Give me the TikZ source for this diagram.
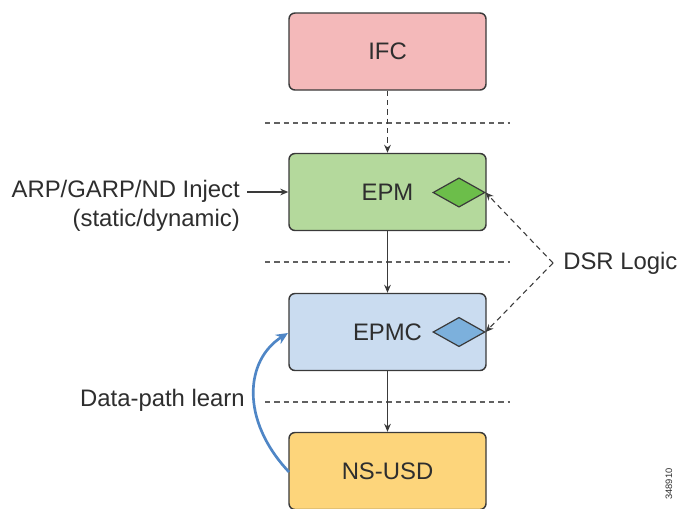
\documentclass[tikz,border=0pt]{standalone}
\usepackage{fontspec}
\setmainfont{Liberation Sans}
\usetikzlibrary{arrows.meta,shapes.geometric}
\definecolor{ifcfill}{HTML}{F4B9BA}
\definecolor{epmfill}{HTML}{B4D99C}
\definecolor{epmcfill}{HTML}{CADCF0}
\definecolor{nsfill}{HTML}{FDD57B}
\definecolor{dgreen}{HTML}{6CBE4A}
\definecolor{dblue}{HTML}{7CB0DC}
\definecolor{edge}{HTML}{3A3A3A}
\definecolor{txt}{HTML}{2E2E2E}
\definecolor{curve}{HTML}{4F86C6}
\tikzset{
  box/.style={draw=edge, line width=1.1pt, rounded corners=4.5pt, minimum width=147.75pt, minimum height=57.75pt, inner sep=0pt, text=txt, font=\fontsize{17.9}{21}\selectfont},
  dmd/.style={draw=edge, line width=0.9pt, diamond, inner sep=0pt, minimum width=39pt, minimum height=22pt},
  lbl/.style={text=txt, font=\fontsize{17.9}{21}\selectfont, inner sep=0pt},
  sep/.style={draw=edge!80, line width=0.8pt, dash pattern=on 4pt off 3pt},
  arr/.style={draw=edge, line width=0.8pt, -{Stealth[length=6pt,width=5pt]}},
  darr/.style={draw=edge, line width=0.8pt, dash pattern=on 4pt off 3pt, -{Stealth[length=6pt,width=5pt]}},
}
\begin{document}
\begin{tikzpicture}[x=0.75pt,y=-0.75pt]
\useasboundingbox (0,0) rectangle (678,508);
\clip (0,0) rectangle (678,508);
\fill[white] (0,0) rectangle (678,508);
% separators
\coordinate (s1a) at (265,123); \coordinate (s1b) at (510,123);
\coordinate (s2a) at (265,262); \coordinate (s2b) at (510,262);
\coordinate (s3a) at (265,402); \coordinate (s3b) at (510,402);
\draw[sep] (s1a) -- (s1b);
\draw[sep] (s2a) -- (s2b);
\draw[sep] (s3a) -- (s3b);
% boxes
\node[box, fill=ifcfill] (ifc) at (387.5,51.5) {IFC};
\node[box, fill=epmfill] (epm) at (387.5,192) {EPM};
\node[box, fill=epmcfill] (epmc) at (387.5,332) {EPMC};
\node[box, fill=nsfill] (ns) at (387.5,471) {NS-USD};
% diamonds
\node[dmd, fill=dgreen] (d1) at (459,192.5) {};
\node[dmd, fill=dblue] (d2) at (459,332) {};
% vertical arrows
\draw[darr] (ifc) -- (epm);
\draw[arr] (epm) -- (epmc);
\draw[arr] (epmc) -- (ns);
% ARP inject
\node[lbl, anchor=east, align=right] (arp) at (240,206) {ARP/GARP/ND Inject\\[1pt](static/dynamic)};
\coordinate (arps) at (247,192);
\draw[arr] (arps) -- (epm.west |- arps);
% DSR logic
\node[lbl, anchor=west] (dsr) at (563,263) {DSR Logic};
\coordinate (dsrp) at (553,263);
\draw[darr] (dsrp) -- (d1.east);
\draw[darr] (dsrp) -- (d2.east);
% data-path learn
\node[lbl, anchor=east] (dpl) at (245,400) {Data-path learn};
\coordinate (cs) at (289,472);
\coordinate (ce) at (288,333);
\draw[draw=curve, line width=2pt, -{Stealth[length=9pt,width=8pt]}] (cs) .. controls (240,420) and (245,360) .. (ce);
% figure id
\node[rotate=90, font=\fontsize{7}{8}\selectfont, text=txt, inner sep=0pt] (fid) at (669,484) {348910};
\end{tikzpicture}
\end{document}
